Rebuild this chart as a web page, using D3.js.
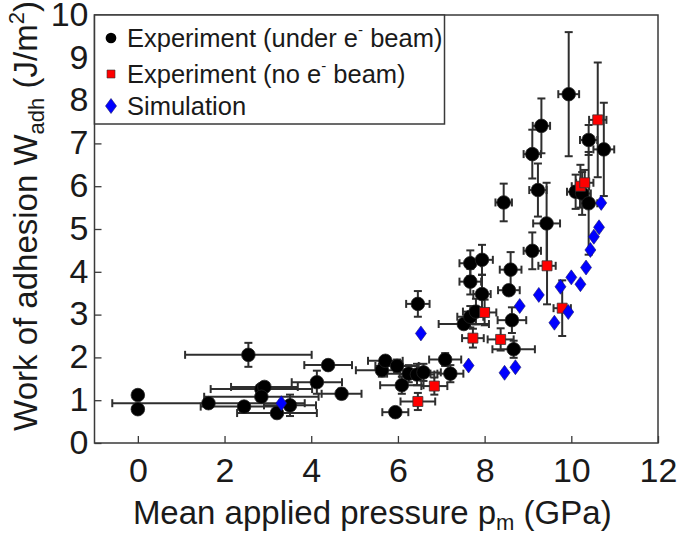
<!DOCTYPE html>
<html>
<head>
<meta charset="utf-8">
<script src="https://cdn.jsdelivr.net/npm/d3@7"></script>
<style>
  body { margin: 0; background: #fff; }
  svg { display: block; }
  text { font-family: "Liberation Sans", Arial, sans-serif; fill: #1a1a1a; }
</style>
</head>
<body>
<svg id="chart" width="678" height="533"></svg>
<script>
// Experiment under e- beam: [p, W, xerr, yerr]
var underBeam = [
  [0.00, 1.12, 0, 0.10], [0.00, 0.79, 0, 0.08], [1.63, 0.93, 2.22, 0.06],
  [2.55, 2.06, 1.46, 0.28], [2.45, 0.85, 1.00, 0.05], [2.85, 1.26, 1.17, 0.10],
  [2.92, 1.31, 0.77, 0.10], [2.85, 1.08, 1.32, 0.10], [3.21, 0.70, 0.92, 0.12],
  [3.51, 0.88, 0.60, 0.25], [4.13, 1.42, 0.58, 0.27], [4.39, 1.82, 0.55, 0.05],
  [4.70, 1.15, 0.46, 0.12], [5.63, 1.70, 0.60, 0.15], [5.71, 1.92, 0.40, 0.10],
  [5.98, 1.80, 0.50, 0.15], [6.09, 1.35, 0.50, 0.20], [5.94, 0.72, 0.30, 0.05],
  [6.25, 1.62, 0.50, 0.20], [6.44, 1.60, 0.40, 0.25], [6.59, 1.65, 0.40, 0.20],
  [7.09, 1.95, 0.37, 0.15], [7.21, 1.62, 0.30, 0.20], [6.46, 3.25, 0.27, 0.30],
  [7.52, 2.78, 0.58, 0.10], [7.67, 2.95, 0.30, 0.25], [7.80, 3.07, 0.30, 0.30],
  [7.67, 3.77, 0.25, 0.30], [7.67, 4.20, 0.25, 0.30], [7.94, 4.28, 0.25, 0.35],
  [7.94, 3.48, 0.20, 0.45], [8.56, 3.57, 0.25, 0.10], [8.60, 4.05, 0.25, 0.41],
  [8.63, 2.87, 0.33, 0.30], [8.67, 2.19, 0.49, 0.20], [8.44, 5.62, 0.19, 0.44],
  [9.10, 4.49, 0.20, 0.43], [9.43, 5.13, 0.31, 0.95], [9.23, 5.91, 0.20, 0.62],
  [9.10, 6.75, 0.20, 0.57], [9.31, 7.41, 0.20, 0.64], [9.94, 8.15, 0.24, 1.45],
  [10.10, 5.87, 0.20, 0.40], [10.25, 5.83, 0.20, 0.50], [10.40, 5.60, 0.20, 1.20],
  [10.40, 7.08, 0.20, 0.35], [10.75, 6.86, 0.24, 1.09]
];

// Experiment without e- beam: [p, W, xerr, yerr]
var noBeam = [
  [6.46, 0.97, 0.40, 0.20], [6.84, 1.33, 0.30, 0.20], [7.73, 2.45, 0.25, 0.22],
  [8.00, 3.05, 0.27, 0.30], [8.37, 2.42, 0.30, 0.26], [9.44, 4.14, 0.20, 0.90],
  [9.79, 3.15, 0.20, 0.65], [10.21, 6.00, 0.20, 0.50], [10.31, 6.08, 0.20, 0.30],
  [10.61, 7.55, 0.20, 1.34]
];

// Simulation: [p, W]
var simulation = [
  [3.31, 0.93], [6.53, 2.56], [7.63, 1.81], [8.46, 1.64], [8.71, 1.77],
  [8.81, 3.20], [9.25, 3.46], [9.61, 2.81], [9.75, 3.65], [9.93, 3.06],
  [10.00, 3.87], [10.21, 3.71], [10.34, 4.10], [10.44, 4.51], [10.52, 4.82],
  [10.64, 5.04], [10.69, 5.61]
];

var xTicks = [0, 2, 4, 6, 8, 10, 12];
var yTicks = [0, 1, 2, 3, 4, 5, 6, 7, 8, 9, 10];

var svg = d3.select('#chart');
var plotL = 94.5, plotR = 658, plotT = 15, plotB = 443;

var x = d3.scaleLinear().domain([-1, 12]).range([plotL, plotR]);
var y = d3.scaleLinear().domain([0, 10]).range([plotB, plotT]);

var frameColor = '#3a3a3a';
var barColor = '#2e2e2e';

// axes, ticks pointing inward
var xAxis = d3.axisBottom(x).tickValues(xTicks).tickSizeInner(-7).tickSizeOuter(0).tickPadding(15);
var yAxis = d3.axisLeft(y).tickValues(yTicks).tickSizeInner(-7).tickSizeOuter(0).tickPadding(6);

var gx = svg.append('g').attr('transform', 'translate(0,' + plotB + ')').call(xAxis);
var gy = svg.append('g').attr('transform', 'translate(' + plotL + ',0)').call(yAxis);
[gx, gy].forEach(function (g) {
  g.select('.domain').remove();
  g.selectAll('.tick line').attr('stroke', frameColor).attr('stroke-width', 1.3);
  g.selectAll('.tick text').attr('font-size', 34).attr('fill', '#1a1a1a')
    .attr('font-family', '"Liberation Sans", Arial, sans-serif');
});
gx.selectAll('.tick text').attr('dy', '0.71em');
gy.selectAll('.tick text').attr('dy', '0.3em');

svg.append('rect')
  .attr('x', plotL).attr('y', plotT)
  .attr('width', plotR - plotL).attr('height', plotB - plotT)
  .attr('fill', 'none').attr('stroke', frameColor).attr('stroke-width', 1.5);

// error bars
var plot = svg.append('g');
var cap = 4;
function errorBars(data) {
  data.forEach(function (d) {
    var cx = x(d[0]), cy = y(d[1]);
    var g = plot.append('g').attr('stroke', barColor).attr('stroke-width', 2).attr('fill', 'none');
    if (d[2] > 0) {
      var x0 = x(d[0] - d[2]), x1 = x(d[0] + d[2]);
      g.append('line').attr('x1', x0).attr('x2', x1).attr('y1', cy).attr('y2', cy);
      g.append('line').attr('x1', x0).attr('x2', x0).attr('y1', cy - cap).attr('y2', cy + cap);
      g.append('line').attr('x1', x1).attr('x2', x1).attr('y1', cy - cap).attr('y2', cy + cap);
    }
    if (d[3] > 0) {
      var y0 = y(d[1] - d[3]), y1 = y(d[1] + d[3]);
      g.append('line').attr('x1', cx).attr('x2', cx).attr('y1', y0).attr('y2', y1);
      g.append('line').attr('x1', cx - cap).attr('x2', cx + cap).attr('y1', y0).attr('y2', y0);
      g.append('line').attr('x1', cx - cap).attr('x2', cx + cap).attr('y1', y1).attr('y2', y1);
    }
  });
}
errorBars(underBeam);
errorBars(noBeam);

var circleSym = d3.symbol().type(d3.symbolCircle).size(145);
var squareSym = d3.symbol().type(d3.symbolSquare).size(100);
function diamondPath(w, h) {
  return 'M0,' + (-h / 2) + 'L' + (w / 2) + ',0L0,' + (h / 2) + 'L' + (-w / 2) + ',0Z';
}

plot.selectAll('path.under').data(underBeam).enter().append('path')
  .attr('class', 'under')
  .attr('d', circleSym)
  .attr('transform', function (d) { return 'translate(' + x(d[0]) + ',' + y(d[1]) + ')'; })
  .attr('fill', '#000').attr('stroke', '#222').attr('stroke-width', 0.8);

plot.selectAll('path.nobeam').data(noBeam).enter().append('path')
  .attr('class', 'nobeam')
  .attr('d', squareSym)
  .attr('transform', function (d) { return 'translate(' + x(d[0]) + ',' + y(d[1]) + ')'; })
  .attr('fill', '#ff0000').attr('stroke', '#333').attr('stroke-width', 0.8);

plot.selectAll('path.sim').data(simulation).enter().append('path')
  .attr('class', 'sim')
  .attr('d', diamondPath(11, 15))
  .attr('transform', function (d) { return 'translate(' + x(d[0]) + ',' + y(d[1]) + ')'; })
  .attr('fill', '#0000ff').attr('stroke', '#1a1a6a').attr('stroke-width', 0.6);

// legend
var leg = svg.append('g');
leg.append('rect')
  .attr('x', plotL).attr('y', plotT).attr('width', 350).attr('height', 109)
  .attr('fill', '#fff').attr('stroke', frameColor).attr('stroke-width', 1.5);

var legendItems = [
  { label: 'Experiment (under e', tail: ' beam)', cy: 38, mark: 'circle' },
  { label: 'Experiment (no e', tail: ' beam)', cy: 74, mark: 'square' },
  { label: 'Simulation', tail: null, cy: 106, mark: 'diamond' }
];
legendItems.forEach(function (it) {
  var m = leg.append('path').attr('transform', 'translate(111,' + it.cy + ')');
  if (it.mark === 'circle') {
    m.attr('d', d3.symbol().type(d3.symbolCircle).size(90)).attr('fill', '#000');
  } else if (it.mark === 'square') {
    m.attr('d', d3.symbol().type(d3.symbolSquare).size(64)).attr('fill', '#ff0000').attr('stroke', '#333').attr('stroke-width', 0.6);
  } else {
    m.attr('d', diamondPath(11, 15)).attr('fill', '#0000ff').attr('stroke', '#1a1a6a').attr('stroke-width', 0.6);
  }
  var t = leg.append('text').attr('x', 127).attr('y', it.cy + 9).attr('font-size', 25.5);
  t.append('tspan').text(it.label);
  if (it.tail) {
    t.append('tspan').attr('font-size', 15).attr('dy', -12).text('-');
    t.append('tspan').attr('dy', 12).text(it.tail);
  }
});

// x title
var xt = svg.append('text').attr('x', (plotL + plotR) / 2 - 4).attr('y', 524)
  .attr('text-anchor', 'middle').attr('font-size', 33);
xt.append('tspan').text('Mean applied pressure p');
xt.append('tspan').attr('font-size', 22).attr('dy', 6).text('m');
xt.append('tspan').attr('dy', -6).text(' (GPa)');

// y title
var yt = svg.append('text').attr('transform', 'translate(37,' + ((plotT + plotB) / 2 - 13) + ') rotate(-90)')
  .attr('text-anchor', 'middle').attr('font-size', 33);
yt.append('tspan').text('Work of adhesion W');
yt.append('tspan').attr('font-size', 22).attr('dy', 7).text('adh');
yt.append('tspan').attr('dy', -7).text(' (J/m');
yt.append('tspan').attr('font-size', 22).attr('dy', -13).text('2');
yt.append('tspan').attr('dy', 13).text(')');
</script>
</body>
</html>
